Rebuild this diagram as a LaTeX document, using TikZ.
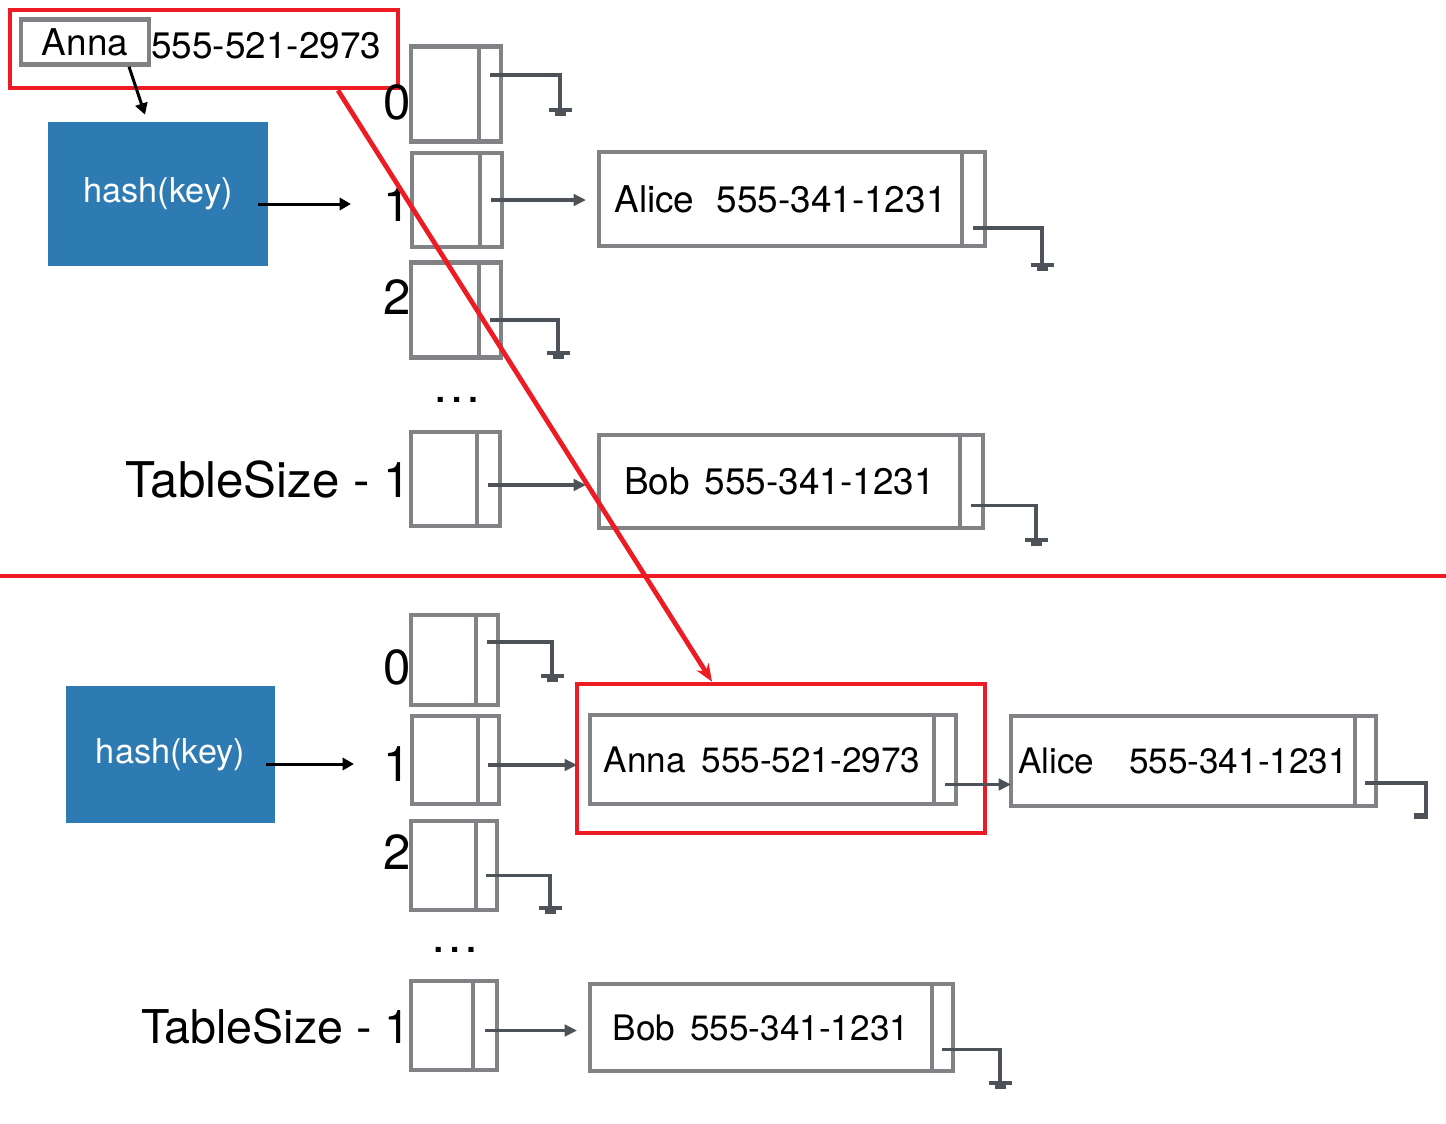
\documentclass[tikz,border=0pt]{standalone}
\usepackage{fontspec}
\setmainfont{TeX Gyre Heros}
\usepackage{tikz}
\usetikzlibrary{positioning, arrows.meta}
\usepackage{xcolor}
\definecolor{boxgray}{RGB}{128,130,133}
\definecolor{leadgray}{RGB}{77,82,88}
\definecolor{markred}{RGB}{237,28,36}
\definecolor{hashblue}{RGB}{46,122,178}

\begin{document}
\begin{tikzpicture}[x=0.02cm, y=-0.02cm,
  cell/.style={draw=boxgray, line width=2.5pt, inner sep=0pt, outer sep=0pt, anchor=west},
  ptrcell/.style={draw=boxgray, line width=2.5pt, inner sep=0pt, outer sep=0pt},
  record/.style={draw=boxgray, line width=2.5pt, inner sep=0pt, outer sep=0pt, anchor=west, font=\fontsize{21}{25}\selectfont},
  idx/.style={anchor=east, inner sep=0pt, font=\fontsize{28}{32}\selectfont},
  hashbox/.style={fill=hashblue, text=white, inner sep=0pt, font=\fontsize{19.5}{23}\selectfont},
  redbox/.style={draw=markred, line width=2.7pt, inner sep=0pt},
  link/.style={leadgray, line width=2.1pt, -{Triangle[length=7pt, width=6.5pt]}},
  lead/.style={leadgray, line width=2.1pt},
  harrow/.style={black, line width=1.7pt, -{Triangle[length=6.5pt, width=7pt]}},
  redarrow/.style={markred, line width=2.7pt, -{Stealth[length=10pt, width=8pt]}},
  gnd/.pic={\fill[leadgray] (-11.5,-2) rectangle (11.5,2); \fill[leadgray] (-5.5,2) rectangle (5.5,6);}]
  \useasboundingbox (0,0) rectangle (1446,1123);

  % Nodes (old table)
  \node[redbox, minimum width=7.76cm, minimum height=1.56cm] (annaold) at (204,49) {};
  \node[draw=boxgray, line width=2.5pt, inner sep=0pt, minimum width=2.56cm, minimum height=0.9cm,
        font=\fontsize{21}{25}\selectfont] (annakey) at (85,42) {Anna};
  \node[anchor=west, inner sep=0pt, font=\fontsize{21}{25}\selectfont] (annanum) at (151,46) {555-521-2973};
  \node[hashbox, minimum width=4.4cm, minimum height=2.88cm] (hashA) at (158,194) {hash(key)};

  \node[cell, minimum width=1.36cm, minimum height=1.9cm] (t0) at (411,94) {};
  \node[ptrcell, minimum width=0.44cm, minimum height=1.9cm, right=0pt of t0] (t0p) {};
  \node[cell, minimum width=1.36cm, minimum height=1.88cm] (t1) at (412,200) {};
  \node[ptrcell, minimum width=0.44cm, minimum height=1.88cm, right=0pt of t1] (t1p) {};
  \node[cell, minimum width=1.36cm, minimum height=1.9cm] (t2) at (411,310) {};
  \node[ptrcell, minimum width=0.44cm, minimum height=1.9cm, right=0pt of t2] (t2p) {};
  \node[cell, minimum width=1.32cm, minimum height=1.88cm] (t3) at (411,479) {};
  \node[ptrcell, minimum width=0.46cm, minimum height=1.88cm, right=0pt of t3] (t3p) {};

  \node[idx] (l0) at (411,102) {0};
  \node[idx] (l1) at (411,204) {1};
  \node[idx] (l2) at (411,297) {2};
  \node[idx] (lts) at (411,480) {TableSize - 1};
  \node[inner sep=0pt, font=\fontsize{28}{32}\selectfont] (dtop) at (457,400) {\dots};

  \node[record, minimum width=7.26cm, minimum height=1.88cm] (alice) at (599,199) {Alice\hspace{0.45cm}555-341-1231};
  \node[ptrcell, minimum width=0.46cm, minimum height=1.88cm, right=0pt of alice] (alicep) {};
  \node[record, minimum width=7.22cm, minimum height=1.86cm] (bob) at (599,481.5) {Bob\hspace{0.3cm}555-341-1231};
  \node[ptrcell, minimum width=0.46cm, minimum height=1.86cm, right=0pt of bob] (bobp) {};

  \coordinate (g0) at (560,110);
  \coordinate (g2) at (558,353);
  \coordinate (galice) at (1042,265);
  \coordinate (gbob) at (1036,540);
  \coordinate (sepL) at (0,576);
  \coordinate (sepR) at (1446,576);

  % Nodes (new table)
  \node[hashbox, minimum width=4.18cm, minimum height=2.74cm] (hashB) at (170.5,754.5) {hash(key)};

  \node[cell, minimum width=1.3cm, minimum height=1.8cm] (b0) at (411,660) {};
  \node[ptrcell, minimum width=0.44cm, minimum height=1.8cm, right=0pt of b0] (b0p) {};
  \node[cell, minimum width=1.32cm, minimum height=1.76cm] (b1) at (412,760) {};
  \node[ptrcell, minimum width=0.42cm, minimum height=1.76cm, right=0pt of b1] (b1p) {};
  \node[cell, minimum width=1.3cm, minimum height=1.78cm] (b2) at (411,865.5) {};
  \node[ptrcell, minimum width=0.42cm, minimum height=1.78cm, right=0pt of b2] (b2p) {};
  \node[cell, minimum width=1.24cm, minimum height=1.78cm] (b3) at (411,1025.5) {};
  \node[ptrcell, minimum width=0.48cm, minimum height=1.78cm, right=0pt of b3] (b3p) {};

  \node[idx] (m0) at (411,667) {0};
  \node[idx] (m1) at (411,764) {1};
  \node[idx] (m2) at (411,852) {2};
  \node[idx, font=\fontsize{26.5}{30}\selectfont] (mts) at (411,1027) {TableSize - 1};
  \node[inner sep=0pt, font=\fontsize{28}{32}\selectfont] (dbot) at (455,950) {\dots};

  \node[redbox, minimum width=8.16cm, minimum height=2.98cm] (annanew) at (781,758.5) {};
  \node[record, minimum width=6.88cm, minimum height=1.78cm, font=\fontsize{20}{24}\selectfont] (anna) at (590,759.5) {Anna\hspace{0.32cm}555-521-2973};
  \node[ptrcell, minimum width=0.44cm, minimum height=1.78cm, right=0pt of anna] (annap) {};
  \node[record, minimum width=6.88cm, minimum height=1.8cm, font=\fontsize{20}{24}\selectfont] (alice2) at (1011,761) {Alice\hspace{0.7cm}555-341-1231};
  \node[ptrcell, minimum width=0.42cm, minimum height=1.8cm, right=0pt of alice2] (alice2p) {};
  \node[record, minimum width=6.84cm, minimum height=1.74cm, font=\fontsize{20}{24}\selectfont] (bob2) at (590,1027.5) {Bob\hspace{0.3cm}555-341-1231};
  \node[ptrcell, minimum width=0.42cm, minimum height=1.74cm, right=0pt of bob2] (bob2p) {};

  \coordinate (h0) at (552,676);
  \coordinate (h2) at (550,908);
  \coordinate (hbob) at (1000,1083);
  \coordinate (halice) at (1426,815);
  \coordinate (hA) at ([xshift=-0.2cm]hashA.east);
  \coordinate (hB) at ([xshift=-0.18cm]hashB.east);

  % Edges (old table)
  \draw[harrow] ([xshift=0.88cm]annakey.south) -- ([xshift=-0.26cm, yshift=0.14cm]hashA.north);
  \draw[harrow] (hA |- l1) -- ([xshift=-0.64cm]l1.west);
  \draw[lead] ([yshift=0.38cm]t0p.center) -| (g0);
  \pic at (g0) {gnd};
  \draw[link, shorten >=0.26cm] (t1p.center) -- (t1p.center -| alice.west);
  \draw[lead] ([yshift=-0.58cm]alicep.center) -| (galice);
  \pic at (galice) {gnd};
  \draw[lead] ([yshift=-0.2cm]t2p.center) -| (g2);
  \pic at (g2) {gnd};
  \draw[link, shorten >=0.26cm] ([yshift=-0.12cm]t3p.center) -- ([yshift=-0.12cm]t3p.center -| bob.west);
  \draw[lead] ([yshift=-0.48cm]bobp.center) -| (gbob);
  \pic at (gbob) {gnd};

  % Edges (new table)
  \draw[harrow] (hB |- m1) -- ([xshift=-0.58cm]m1.west);
  \draw[lead] ([yshift=0.36cm]b0p.center) -| (h0);
  \pic at (h0) {gnd};
  \draw[link, shorten >=0.26cm] ([yshift=-0.1cm]b1p.center) -- ([yshift=-0.1cm]b1p.center -| anna.west);
  \draw[lead] ([yshift=-0.2cm]b2p.center) -| (h2);
  \pic at (h2) {gnd};
  \draw[link, shorten >=0.26cm] ([yshift=-0.1cm]b3p.center) -- ([yshift=-0.1cm]b3p.center -| bob2.west);
  \draw[lead] ([yshift=-0.44cm]bob2p.center) -| (hbob);
  \pic at (hbob) {gnd};
  \draw[link] ([yshift=-0.5cm]annap.center) -- ([yshift=-0.5cm]annap.center -| alice2.west);
  \draw[lead] ([yshift=-0.44cm]alice2p.center) -| (halice);
  \fill[leadgray] (1414,813) rectangle (1428,819);

  % Red marks
  \draw[markred, line width=2.7pt] (sepL) -- (sepR);
  \draw[redarrow] ([xshift=2.68cm]annaold.south) -- ([xshift=-1.38cm]annanew.north);
\end{tikzpicture}
\end{document}
